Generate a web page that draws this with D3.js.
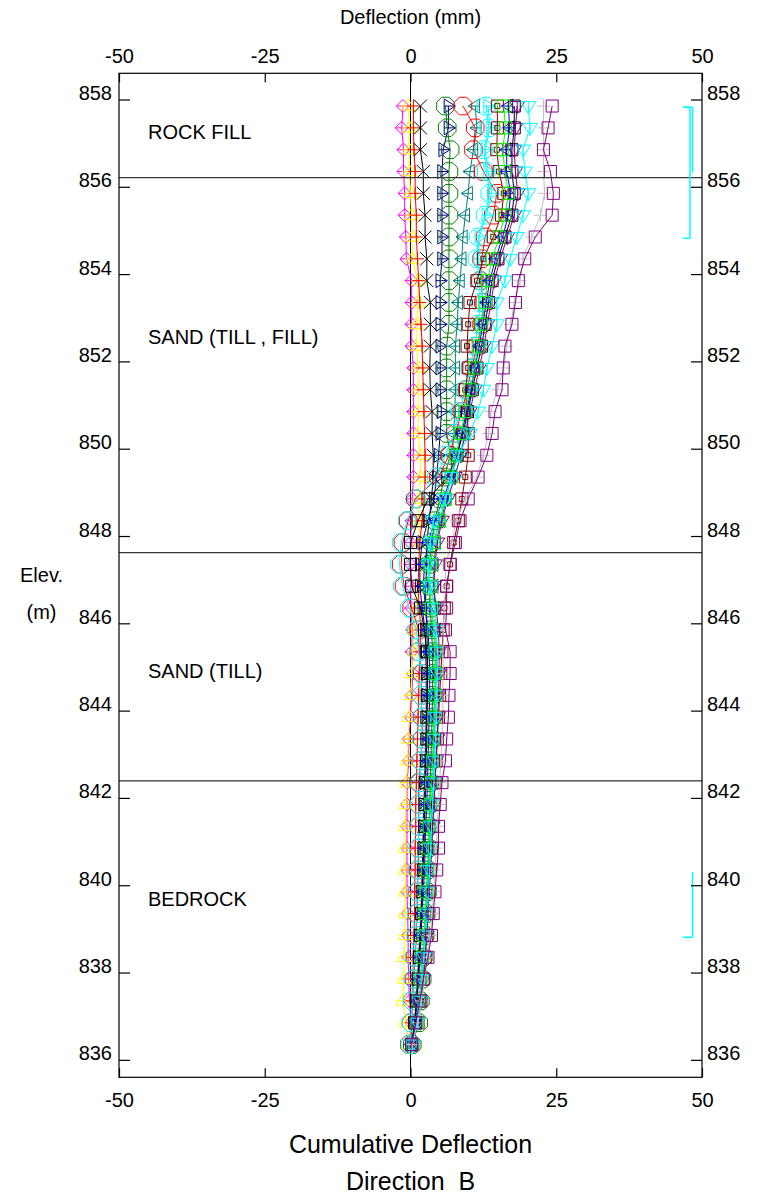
<!DOCTYPE html>
<html>
<head>
  <meta charset="utf-8">
  <script src="https://d3js.org/d3.v7.min.js"></script>
  <style>
    body { margin: 0; background: #fff; }
    text { font-family: "Liberation Sans", Arial, sans-serif; fill: #000; }
  </style>
</head>
<body>
  <svg id="chart" width="762" height="1196"></svg>
  <script>
    // reading elevations (m), top to bottom
    var elevations = [857.85, 857.35, 856.85, 856.35, 855.85, 855.35, 854.85, 854.35,
      853.85, 853.35, 852.85, 852.35, 851.85, 851.35, 850.85, 850.35,
      849.85, 849.35, 848.85, 848.35, 847.85, 847.35, 846.85, 846.35, 845.85,
      845.35, 844.85, 844.35, 843.85, 843.35, 842.85, 842.35, 841.85, 841.35,
      840.85, 840.35, 839.85, 839.35, 838.85, 838.35, 837.85, 837.35, 836.85, 836.35];

    // cumulative deflection (mm) per reading
    var magentaDiamond = [-1.3,-1.5,-1.2,-1.2,-1.0,-1.0,-0.8,-0.7, 0.2,0.2,0.2,0.2,0.5,0.5,0.5,0.5,
      0.5,0.5,0.3,0.2,0.0,0.0,0.0,0.1,0.3, 0.2,0.4,0.2,0.0,-0.3,-0.3,-0.6,-0.6,-0.6,
      -0.6,-0.6,-0.6,-0.5,-0.4,-0.4,-0.3,-0.2,0.1,0.0];
    var yellowTri = [-0.4,-0.2,-0.2,-0.2,0.0,0.2,0.3,0.3, 1.3,1.3,1.0,1.0,1.3,1.3,1.3,1.3,
      1.7,1.7,1.5,1.4,1.8,2.0,1.5,1.0,0.5, 0.6,0.2,0.0,-0.2,-0.4,-0.5,-0.7,-0.8,-0.9,
      -0.9,-0.9,-0.9,-0.9,-0.9,-1.1,-1.1,-1.3,-0.8,-0.2];
    var redPlus = [0.5,0.5,0.6,0.8,0.8,1.0,1.0,1.2, 1.4,1.6,1.8,2.0,2.1,2.2,2.3,2.4,
      2.5,2.5,2.4,2.0,1.6,1.4,1.3,1.5,1.8, 1.6,1.5,1.4,1.3,1.2,1.1,1.0,0.9,0.9,
      0.8,0.8,0.7,0.7,0.6,0.5,0.4,0.3,0.2,0.1];
    var blackX = [1.7,1.7,1.7,2.2,2.2,2.5,2.5,2.8, 2.8,3.4,3.4,3.4,3.3,3.4,3.7,3.7,
      3.9,3.9,3.6,3.2,2.8,2.8,2.6,2.6,2.8, 2.9,2.9,2.9,2.8,2.7,2.6,2.5,2.4,2.3,
      2.2,2.1,2.0,1.9,1.7,1.5,1.3,1.1,0.8,0.3];
    var navyTri = [6.5,6.5,5.6,5.4,5.4,5.4,5.4,5.4, 5.1,5.1,5.1,5.1,5.1,5.1,5.3,5.1,
      4.8,4.5,4.0,3.0,2.0,1.6,1.6,2.0,2.5, 2.6,2.7,2.7,2.7,2.6,2.5,2.4,2.3,2.2,
      2.1,2.0,1.9,1.8,1.6,1.4,1.2,1.0,0.7,0.2];
    var greenOct = [6.0,6.3,6.8,6.6,6.6,6.6,6.6,6.6, 6.6,6.6,6.6,6.2,6.2,6.2,6.2,6.2,
      6.8,5.8,5.0,4.2,3.6,3.2,3.2,3.4,3.6, 3.8,3.8,3.8,3.7,3.6,3.5,3.4,3.3,3.2,
      3.1,3.0,2.9,2.7,2.5,2.2,2.0,1.7,1.4,0.3];
    var redOct = [9.0,11.1,10.8,12.5,14.8,14.2,12.8,12.2, 12.0,12.5,12.2,11.4,10.5,9.7,8.8,7.7,
      6.6,4.8,0.8,-0.4,-1.3,-1.6,-1.1,0.2,1.4, 1.4,2.0,1.8,2.0,2.0,1.8,1.4,1.4,1.4,
      1.4,1.3,1.2,1.1,1.0,0.8,0.6,0.3,0.1,-0.2];
    var tealTri = [11.1,11.4,10.8,10.2,9.9,9.4,9.0,8.8, 8.5,8.2,8.0,7.7,7.7,7.7,7.6,7.4,
      7.2,6.8,6.2,5.2,4.4,4.0,4.0,4.2,4.4, 4.4,4.4,4.3,4.2,4.1,4.0,3.9,3.7,3.5,
      3.4,3.2,3.0,2.8,2.6,2.3,2.0,1.7,1.2,0.4];
    var cyanTri = [13.3,13.7,12.8,13.3,13.9,13.0,11.8,11.6, 12.2,12.4,12.2,11.8,11.2,10.6,10.0,9.2,
      8.6,7.6,6.2,4.8,3.6,3.0,3.2,3.6,4.0, 4.2,4.3,4.3,4.2,4.1,4.0,3.8,3.6,3.4,
      3.3,3.1,2.9,2.7,2.5,2.2,1.9,1.6,1.2,0.3];
    var cyanOct = [13.0,13.4,12.6,13.0,13.6,12.8,11.6,11.4, 11.8,12.0,11.6,11.0,10.2,9.4,8.4,7.4,
      6.0,4.4,1.0,-0.6,-1.6,-1.9,-1.4,-0.2,1.0, 1.4,1.8,1.8,1.9,1.9,1.8,1.6,1.5,1.4,
      1.3,1.2,1.1,1.0,0.9,0.7,0.5,0.3,0.1,-0.1];
    var maroonSquare = [14.9,14.9,14.8,15.2,16.0,15.6,14.2,12.5, 11.4,10.2,9.9,9.7,9.9,9.4,9.7,9.9,
      9.9,9.4,8.8,8.2,7.4,6.8,6.2,5.8,5.6, 5.4,5.2,5.0,4.8,4.6,4.4,4.2,4.0,3.8,
      3.6,3.4,3.2,3.0,2.8,2.5,2.2,1.8,1.3,0.4];
    var limeSquare = [16.0,16.3,15.8,16.2,16.8,16.2,15.2,14.0, 13.2,12.8,12.2,11.6,11.0,10.2,9.4,8.6,
      7.8,7.0,6.0,5.0,4.0,3.4,3.2,3.6,4.0, 4.2,4.2,4.2,4.0,3.9,3.8,3.6,3.4,3.2,
      3.1,2.9,2.7,2.5,2.3,2.0,1.8,1.5,1.1,0.3];
    var blueTri = [16.8,17.0,16.5,16.5,17.2,16.8,15.8,14.6, 13.6,13.0,12.4,11.8,11.0,10.4,9.6,8.8,
      8.0,7.0,5.6,4.2,3.0,2.4,2.2,2.6,3.0, 3.2,3.3,3.3,3.2,3.1,3.0,2.9,2.8,2.6,
      2.5,2.4,2.2,2.0,1.8,1.6,1.4,1.1,0.8,0.2];
    var blackSquare = [17.8,17.8,17.4,17.4,17.8,17.4,16.2,15.0, 14.0,13.4,12.8,12.2,11.4,10.6,9.8,9.0,
      8.0,6.4,3.0,1.3,0.0,0.0,0.2,1.7,2.4, 2.8,2.9,2.9,2.8,2.8,2.7,2.6,2.5,2.4,
      2.3,2.2,2.0,1.9,1.7,1.5,1.3,1.0,0.7,0.2];
    var purpleTri = [18.3,18.0,17.8,18.0,18.4,17.8,16.6,15.4, 14.4,13.8,13.2,12.6,11.8,11.0,10.2,9.4,
      8.6,7.6,6.4,5.4,4.6,4.2,4.0,4.4,4.8, 4.9,4.9,4.8,4.7,4.6,4.4,4.2,4.0,3.8,
      3.6,3.4,3.2,3.0,2.8,2.5,2.2,1.8,1.2,0.3];
    var cyanTriDown = [20.2,20.5,19.3,19.6,20.2,19.3,18.2,17.1, 16.2,14.8,14.8,14.0,13.1,12.5,11.6,10.2,
      8.2,7.0,6.0,3.9,3.4,3.1,3.4,4.2,4.4, 4.6,4.6,4.5,4.4,4.3,4.2,4.0,3.8,3.6,
      3.5,3.3,3.1,2.9,2.6,2.3,2.0,1.7,1.2,0.3];
    var silverPlus = [22.8,22.8,22.8,22.8,23.0,22.3,20.8,19.3, 18.8,17.8,17.2,16.5,16.0,14.9,13.8,13.4,
      12.5,11.4,9.4,7.8,7.1,6.0,6.0,5.8,5.6, 5.6,5.6,5.5,5.6,5.4,5.2,5.0,4.8,4.6,
      4.4,4.2,4.0,3.7,3.4,2.9,2.4,1.9,1.3,0.3];
    var purpleSquare = [24.3,23.6,22.8,24.0,24.5,24.3,21.4,19.6, 18.5,18.0,17.4,16.2,15.9,15.7,14.5,14.0,
      13.1,11.6,9.9,8.5,7.7,6.8,6.2,6.2,6.0, 6.8,6.8,6.6,6.5,6.2,6.0,5.4,5.1,4.8,
      4.8,4.5,4.2,3.9,3.6,3.0,2.2,1.6,0.9,0.2];

    var elevTicks = [836, 838, 840, 842, 844, 846, 848, 850, 852, 854, 856, 858];
    var deflTicks = [-50, -25, 0, 25, 50];

    var layerNames = ["ROCK FILL", "SAND (TILL , FILL)", "SAND (TILL)", "BEDROCK"];
    var layerLabelElev = [857.26, 852.56, 844.91, 839.69];
    var layerBounds = [856.21, 847.62, 842.39];

    var series = [
      { values: magentaDiamond, color: "#ff00ff", marker: "diamond" },
      { values: yellowTri, color: "#ffff00", marker: "triUp" },
      { values: redPlus, color: "#ff0000", marker: "plus" },
      { values: blackX, color: "#000000", marker: "x" },
      { values: navyTri, color: "#000080", marker: "triRight" },
      { values: greenOct, color: "#008000", marker: "octagon" },
      { values: tealTri, color: "#008080", marker: "triLeft" },
      { values: redOct, color: "#ff0000", marker: "octagon" },
      { values: cyanOct, color: "#00ffff", marker: "octagon" },
      { values: cyanTri, color: "#00ffff", marker: "triRight" },
      { values: maroonSquare, color: "#800000", marker: "squareDot" },
      { values: blueTri, color: "#0000ff", marker: "triLeft" },
      { values: blackSquare, color: "#000000", marker: "square" },
      { values: purpleTri, color: "#800080", marker: "triDown" },
      { values: limeSquare, color: "#00ff00", marker: "square" },
      { values: cyanTriDown, color: "#00ffff", marker: "triDown" },
      { values: silverPlus, color: "#c0c0c0", marker: "plus" },
      { values: purpleSquare, color: "#800080", marker: "square" }
    ];

    var svg = d3.select("#chart");

    var x = d3.scaleLinear().domain([-50, 50]).range([119, 702]);
    var y = d3.scaleLinear().domain([835.6, 858.6]).range([1077.3, 73.3]);

    // marker outlines
    function poly(pts) {
      return "M" + pts.map(function(p) { return p[0].toFixed(2) + "," + p[1].toFixed(2); }).join("L") + "Z";
    }
    function markerPath(type) {
      var s;
      switch (type) {
        case "octagon":
          s = 9.5;
          return poly(d3.range(8).map(function(k) {
            var a = Math.PI / 8 + k * Math.PI / 4;
            return [s * Math.cos(a), s * Math.sin(a)];
          }));
        case "square": s = 6; return poly([[-s,-s],[s,-s],[s,s],[-s,s]]);
        case "squareDot": s = 6; return poly([[-s,-s],[s,-s],[s,s],[-s,s]]) + poly([[-2.5,-2.5],[2.5,-2.5],[2.5,2.5],[-2.5,2.5]]);
        case "diamond": s = 6.5; return poly([[0,-s],[s,0],[0,s],[-s,0]]) + "M" + (-s) + ",0L" + s + ",0";
        case "triUp": s = 7; return poly([[0,-s],[s,s*0.6],[-s,s*0.6]]) + "M" + (-s) + ",0L" + s + ",0";
        case "triDown": s = 7.5; return poly([[-s,-s*0.6],[s,-s*0.6],[0,s]]) + "M0," + (-s*0.6) + "L0," + s;
        case "triRight": s = 7; return poly([[-s*0.6,-s],[s,0],[-s*0.6,s]]) + "M" + (-s*0.6) + ",0L" + s + ",0";
        case "triLeft": s = 7; return poly([[s*0.6,-s],[-s,0],[s*0.6,s]]) + "M" + (-s) + ",0L" + (s*0.6) + ",0";
        case "plus": s = 6.5; return "M" + (-s) + ",0L" + s + ",0M0," + (-s) + "L0," + s;
        case "x": s = 6.5; return "M" + (-s) + "," + (-s) + "L" + s + "," + s + "M" + (-s) + "," + s + "L" + s + "," + (-s);
      }
    }

    var plot = svg.append("g").attr("class", "plot");

    var line = d3.line()
      .x(function(d) { return x(d[0]); })
      .y(function(d) { return y(d[1]); });

    // zero line
    plot.append("line")
      .attr("x1", x(0)).attr("x2", x(0))
      .attr("y1", y.range()[1]).attr("y2", y.range()[0])
      .attr("stroke", "#000").attr("stroke-width", 1);

    series.forEach(function(s) {
      var pts = s.values.map(function(v, i) { return [v, elevations[i]]; });
      var g = plot.append("g");
      g.append("path")
        .attr("d", line(pts))
        .attr("fill", "none")
        .attr("stroke", s.color)
        .attr("stroke-width", 1);
      g.selectAll("path.mk")
        .data(pts)
        .enter().append("path")
          .attr("class", "mk")
          .attr("transform", function(d) { return "translate(" + x(d[0]) + "," + y(d[1]) + ")"; })
          .attr("d", markerPath(s.marker))
          .attr("fill", "none")
          .attr("stroke", s.color)
          .attr("stroke-width", 1);
    });

    // layer boundaries
    svg.selectAll("line.layer")
      .data(layerBounds)
      .enter().append("line")
        .attr("class", "layer")
        .attr("x1", x(-50)).attr("x2", x(50))
        .attr("y1", function(d) { return y(d); })
        .attr("y2", function(d) { return y(d); })
        .attr("stroke", "#333").attr("stroke-width", 1.2);

    svg.selectAll("text.layer")
      .data(layerNames)
      .enter().append("text")
        .attr("class", "layer")
        .attr("x", 148)
        .attr("y", function(d, i) { return y(layerLabelElev[i]); })
        .attr("dy", "0.35em")
        .style("font-size", "20px")
        .text(function(d) { return d; });

    // cyan range brackets on the right
    var brackets = [
      { top: 857.82, bottom: 854.82, xo: 690, capTop: true, capBottom: true },
      { top: 857.82, bottom: 856.33, xo: 692.5, capTop: true, capBottom: false },
      { top: 840.30, bottom: 838.81, xo: 692.5, capTop: false, capBottom: true }
    ];
    brackets.forEach(function(b) {
      var d = "M" + b.xo + "," + y(b.top) + "L" + b.xo + "," + y(b.bottom);
      if (b.capTop) d += "M683," + y(b.top) + "L" + b.xo + "," + y(b.top);
      if (b.capBottom) d += "M683," + y(b.bottom) + "L" + b.xo + "," + y(b.bottom);
      svg.append("path").attr("d", d).attr("fill", "none")
        .attr("stroke", "#00ffff").attr("stroke-width", 1.5);
    });

    // frame
    svg.append("rect")
      .attr("x", x(-50)).attr("y", y.range()[1])
      .attr("width", x(50) - x(-50)).attr("height", y.range()[0] - y.range()[1])
      .attr("fill", "none").attr("stroke", "#000").attr("stroke-width", 1.2);

    function styleAxis(g) {
      g.select(".domain").remove();
      g.selectAll(".tick line").attr("stroke", "#000").attr("stroke-width", 1.2);
      g.selectAll(".tick text").style("font-size", "20px")
        .style("font-family", "'Liberation Sans', Arial, sans-serif").attr("fill", "#000");
    }
    var plain = function(d) { return String(d); };

    svg.append("g")
      .attr("transform", "translate(" + x(-50) + ",0)")
      .call(d3.axisLeft(y).tickValues(elevTicks).tickFormat(plain).tickSize(-11).tickPadding(7))
      .call(styleAxis)
      .selectAll(".tick text").attr("dy", "0");

    svg.append("g")
      .attr("transform", "translate(" + x(50) + ",0)")
      .call(d3.axisRight(y).tickValues(elevTicks).tickFormat(plain).tickSize(-11).tickPadding(5))
      .call(styleAxis)
      .selectAll(".tick text").attr("dy", "0");

    svg.append("g")
      .attr("transform", "translate(0," + y.range()[1] + ")")
      .call(d3.axisTop(x).tickValues(deflTicks).tickFormat(plain).tickSize(-9).tickPadding(10))
      .call(styleAxis);

    svg.append("g")
      .attr("transform", "translate(0," + y.range()[0] + ")")
      .call(d3.axisBottom(x).tickValues(deflTicks).tickFormat(plain).tickSize(-9).tickPadding(16))
      .call(styleAxis);

    // titles
    svg.append("text").attr("x", x(0)).attr("y", 24)
      .attr("text-anchor", "middle").style("font-size", "20px")
      .text("Deflection (mm)");
    svg.append("text").attr("x", 41.5).attr("y", 582)
      .attr("text-anchor", "middle").style("font-size", "20px")
      .text("Elev.");
    svg.append("text").attr("x", 41.5).attr("y", 619)
      .attr("text-anchor", "middle").style("font-size", "20px")
      .text("(m)");
    svg.append("text").attr("x", x(0)).attr("y", 1153)
      .attr("text-anchor", "middle").style("font-size", "25px")
      .text("Cumulative Deflection");
    svg.append("text").attr("x", x(0)).attr("y", 1190)
      .attr("text-anchor", "middle").style("font-size", "25px")
      .style("white-space", "pre")
      .text("Direction  B");
  </script>
</body>
</html>
